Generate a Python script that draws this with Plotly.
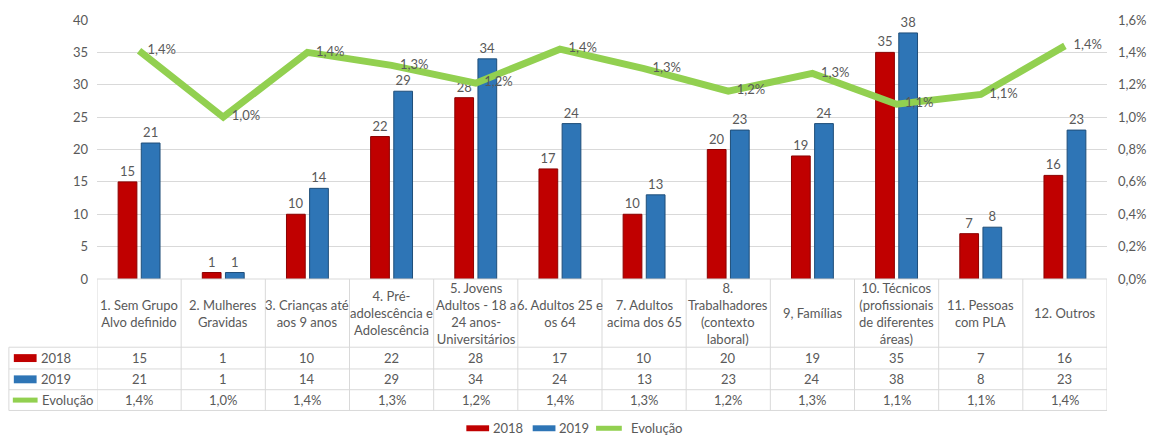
import plotly.graph_objects as go

# --- data -------------------------------------------------------------
categorias = [
    "1. Sem Grupo<br>Alvo definido",
    "2. Mulheres<br>Gravidas",
    "3. Crianças até<br>aos 9 anos",
    "4. Pré-<br>adolescência e<br>Adolescência",
    "5. Jovens<br>Adultos - 18 a<br>24 anos-<br>Universitários",
    "6. Adultos 25 e<br>os 64",
    "7. Adultos<br>acima dos 65",
    "8.<br>Trabalhadores<br>(contexto<br>laboral)",
    "9, Famílias",
    "10. Técnicos<br>(profissionais<br>de diferentes<br>áreas)",
    "11. Pessoas<br>com PLA",
    "12. Outros",
]
valores_2018 = [15, 1, 10, 22, 28, 17, 10, 20, 19, 35, 7, 16]
valores_2019 = [21, 1, 14, 29, 34, 24, 13, 23, 24, 38, 8, 23]
evolucao = [1.41, 1.00, 1.40, 1.32, 1.21, 1.42, 1.30, 1.16, 1.27, 1.08, 1.14, 1.44]

# --- styling ----------------------------------------------------------
W, H = 1158, 437
PL, PR, PT, PB = 97, 1117, 17, 279          # plot area in pixels
FONT = "Lato"
TXT = "#595959"
GRID = "#D9D9D9"
RED = "#C00000"
BLUE = "#2E75B6"
GREEN = "#92D050"


def px_x(x):
    return (x - PL) / (PR - PL)


def px_y(y):
    return (PB - y) / (PB - PT)


def pct(v):
    return f"{v:.1f}%".replace(".", ",")


fig = go.Figure()

fig.add_trace(go.Bar(
    name="2018", x=categorias, y=valores_2018,
    marker=dict(color=RED, line=dict(color="#8B0000", width=1)),
    text=[str(v) for v in valores_2018], textposition="outside",
    textfont=dict(family=FONT, size=13, color=TXT), cliponaxis=False,
))
fig.add_trace(go.Bar(
    name="2019", x=categorias, y=valores_2019,
    marker=dict(color=BLUE, line=dict(color="#1F4E79", width=1)),
    text=[str(v) for v in valores_2019], textposition="outside",
    textfont=dict(family=FONT, size=13, color=TXT), cliponaxis=False,
))
fig.add_trace(go.Scatter(
    name="Evolução", x=categorias, y=evolucao, yaxis="y2",
    mode="lines+markers+text",
    line=dict(color=GREEN, width=7),
    marker=dict(size=12, opacity=0),
    text=[pct(v) for v in evolucao], textposition="middle right",
    textfont=dict(family=FONT, size=13, color=TXT), cliponaxis=False,
))

shapes = []
ann = []
line_style = dict(color=GRID, width=1)

# data table grid
row_lines = [279, 348, 370, 391, 412]
for i, y in enumerate(row_lines):
    x0 = 0 if i == 0 else px_x(8)
    shapes.append(dict(type="line", xref="paper", yref="paper",
                       x0=x0, x1=1, y0=px_y(y), y1=px_y(y), line=line_style))
for i in range(len(categorias) + 1):
    shapes.append(dict(type="line", xref="x", yref="paper",
                       x0=i - 0.5, x1=i - 0.5, y0=px_y(279), y1=px_y(412),
                       line=line_style))
shapes.append(dict(type="line", xref="paper", yref="paper",
                   x0=px_x(8), x1=px_x(8), y0=px_y(348), y1=px_y(412),
                   line=line_style))

cell_font = dict(family=FONT, size=13, color=TXT)
rows = [(359, [str(v) for v in valores_2018]),
        (380.5, [str(v) for v in valores_2019]),
        (401.5, [pct(v) for v in evolucao])]
for i, cat in enumerate(categorias):
    ann.append(dict(xref="x", yref="paper", x=cat, y=px_y(313.5),
                    text=cat, showarrow=False, font=cell_font,
                    xanchor="center", yanchor="middle", align="center"))
    for ry, vals in rows:
        ann.append(dict(xref="x", yref="paper", x=cat, y=px_y(ry),
                        text=vals[i], showarrow=False, font=cell_font,
                        xanchor="center", yanchor="middle"))

# row headers with keys
shapes.append(dict(type="rect", xref="paper", yref="paper",
                   x0=px_x(13), x1=px_x(36), y0=px_y(363), y1=px_y(355),
                   fillcolor=RED, line=dict(width=0)))
ann.append(dict(xref="paper", yref="paper", x=px_x(38), y=px_y(359),
                text="2018", showarrow=False, font=cell_font,
                xanchor="left", yanchor="middle"))
shapes.append(dict(type="rect", xref="paper", yref="paper",
                   x0=px_x(13), x1=px_x(36), y0=px_y(384.5), y1=px_y(376.5),
                   fillcolor=BLUE, line=dict(width=0)))
ann.append(dict(xref="paper", yref="paper", x=px_x(38), y=px_y(380.5),
                text="2019", showarrow=False, font=cell_font,
                xanchor="left", yanchor="middle"))
shapes.append(dict(type="line", xref="paper", yref="paper",
                   x0=px_x(12), x1=px_x(37), y0=px_y(401.5), y1=px_y(401.5),
                   line=dict(color=GREEN, width=5)))
ann.append(dict(xref="paper", yref="paper", x=px_x(95), y=px_y(401.5),
                text="Evolução", showarrow=False, font=cell_font,
                xanchor="right", yanchor="middle"))

# legend row
ly = 430
shapes.append(dict(type="rect", xref="paper", yref="paper",
                   x0=px_x(470), x1=px_x(493), y0=px_y(ly + 3), y1=px_y(ly - 3),
                   fillcolor=RED, line=dict(width=0)))
ann.append(dict(xref="paper", yref="paper", x=px_x(495), y=px_y(ly),
                text="2018", showarrow=False, font=cell_font,
                xanchor="left", yanchor="middle"))
shapes.append(dict(type="rect", xref="paper", yref="paper",
                   x0=px_x(537), x1=px_x(560), y0=px_y(ly + 3), y1=px_y(ly - 3),
                   fillcolor=BLUE, line=dict(width=0)))
ann.append(dict(xref="paper", yref="paper", x=px_x(562), y=px_y(ly),
                text="2019", showarrow=False, font=cell_font,
                xanchor="left", yanchor="middle"))
shapes.append(dict(type="line", xref="paper", yref="paper",
                   x0=px_x(601), x1=px_x(627), y0=px_y(ly), y1=px_y(ly),
                   line=dict(color=GREEN, width=5)))
ann.append(dict(xref="paper", yref="paper", x=px_x(634), y=px_y(ly),
                text="Evolução", showarrow=False, font=cell_font,
                xanchor="left", yanchor="middle"))

fig.update_layout(
    width=W, height=H, autosize=False,
    margin=dict(l=PL, r=W - PR, t=PT, b=H - PB, pad=0),
    paper_bgcolor="white", plot_bgcolor="white",
    separators=",.",
    barmode="group", bargap=0.45, bargroupgap=0.19,
    showlegend=False,
    font=dict(family=FONT, size=13, color=TXT),
    xaxis=dict(type="category", range=[-0.5, len(categorias) - 0.5],
               showticklabels=False, showgrid=False, zeroline=False,
               showline=False, ticks=""),
    yaxis=dict(range=[0, 40], dtick=5, tick0=0, gridcolor=GRID, gridwidth=1,
               zeroline=False, showline=False, ticks="",
               ticklabelstandoff=8,
               tickfont=dict(family=FONT, size=13, color=TXT)),
    yaxis2=dict(range=[0, 1.6], dtick=0.2, tick0=0, overlaying="y",
                side="right", tickformat=".1f", ticksuffix="%",
                showgrid=False, zeroline=False, showline=False, ticks="",
                ticklabelstandoff=10,
                tickfont=dict(family=FONT, size=13, color=TXT)),
    shapes=shapes,
    annotations=ann,
)

fig.write_html("out.html")
